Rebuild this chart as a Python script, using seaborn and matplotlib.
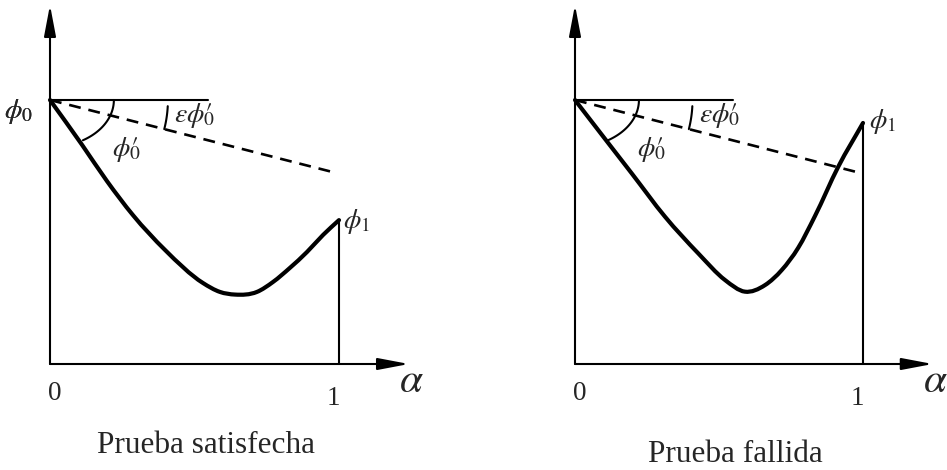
import matplotlib
matplotlib.use("Agg")
import numpy as np
import matplotlib.pyplot as plt
from matplotlib.path import Path
from matplotlib.patches import PathPatch
import seaborn as sns

# phi(alpha) along the step for the two trial cases
alpha_ok = [0.0, 0.111, 0.197, 0.287, 0.398, 0.529, 0.588, 0.640, 0.716, 0.772, 0.830, 0.889, 0.945, 1.0]
phi_ok = [1.0, 0.830, 0.693, 0.564, 0.432, 0.307, 0.273, 0.263, 0.273, 0.311, 0.364, 0.424, 0.489, 0.545]
alpha_fail = [0.0, 0.116, 0.197, 0.3125, 0.428, 0.521, 0.590, 0.660, 0.718, 0.775, 0.833, 0.914, 1.0]
phi_fail = [1.0, 0.836, 0.722, 0.558, 0.419, 0.318, 0.274, 0.299, 0.356, 0.440, 0.560, 0.747, 0.913]

phi0 = 1.0
eps_slope = -0.279          # slope of the sufficient-decrease line eps*phi0'
eps_end = 0.98              # where the dashed line stops
flat_end = 0.548            # length of the horizontal reference at phi0
tick_values = [0, 1]
tick_labels = ["0", "1"]
captions = ["Prueba satisfecha", "Prueba fallida"]

sns.set_theme(style="white")
plt.rcParams["font.family"] = ["Liberation Serif", "DejaVu Serif"]
plt.rcParams["mathtext.fontset"] = "stix"


def smooth_path(xs, ys):
    """Cubic Hermite curve through every (x, y) pair, as a Bezier path."""
    x = np.asarray(xs, float)
    y = np.asarray(ys, float)
    m = np.gradient(y, x)
    verts = [(x[0], y[0])]
    codes = [Path.MOVETO]
    for k in range(len(x) - 1):
        h = x[k + 1] - x[k]
        verts += [(x[k] + h / 3, y[k] + m[k] * h / 3),
                  (x[k + 1] - h / 3, y[k + 1] - m[k + 1] * h / 3),
                  (x[k + 1], y[k + 1])]
        codes += [Path.CURVE4] * 3
    return Path(verts, codes)


W, H = 947, 470
fig = plt.figure(figsize=(W / 100, H / 100), dpi=100)

panels = [
    dict(rect=[0, 0, 473 / W, 1], x0=50, sx=289, xlim=(-50 / 289, 423 / 289),
         alpha=alpha_ok, phi=phi_ok, cap=(206, 453), arc_a=0.221, arc_t=59,
         phi1_lab=(343, 221)),
    dict(rect=[473 / W, 0, 474 / W, 1], x0=575, sx=288, xlim=(-102 / 288, 372 / 288),
         alpha=alpha_fail, phi=phi_fail, cap=(735, 462), arc_a=0.222, arc_t=60,
         phi1_lab=(869, 122)),
]
Y0, SY = 364, 264
ylim = (-106 / SY, 364 / SY)

LW_AX = 1.5
LW_CURVE = 3.0
FS_PHI = 20

for i, p in enumerate(panels):
    ax = fig.add_axes(p["rect"])
    ax.set_xlim(*p["xlim"])
    ax.set_ylim(*ylim)
    ax.set_axis_off()

    def at(px, py, p=p):
        """Pixel position in the figure -> data position in this panel."""
        return (px - p["x0"]) / p["sx"], (Y0 - py) / SY

    # phi(alpha)
    ax.add_patch(PathPatch(smooth_path(p["alpha"], p["phi"]), facecolor="none",
                           edgecolor="black", lw=LW_CURVE, capstyle="round",
                           joinstyle="round"))

    # axes with arrow heads
    y_top = ylim[1] - 5 / SY
    x_tip = 1 + 70 / 289
    arrow = dict(arrowstyle="-|>,head_length=19,head_width=3.6",
                 mutation_scale=1, color="black", lw=LW_AX,
                 shrinkA=0, shrinkB=0)
    ax.annotate("", xy=(0, y_top), xytext=(0, 0), arrowprops=arrow)
    ax.annotate("", xy=(x_tip, 0), xytext=(0, 0), arrowprops=arrow)

    # vertical at alpha = 1 up to phi1
    phi1 = p["phi"][-1]
    sns.lineplot(x=[1, 1], y=[0, phi1], color="black", lw=LW_AX, ax=ax,
                 sort=False, estimator=None)

    # horizontal reference at phi0 and the dashed sufficient-decrease line
    sns.lineplot(x=[0, flat_end], y=[phi0, phi0], color="black", lw=LW_AX, ax=ax)
    ax.plot([0, eps_end], [phi0, phi0 + eps_slope * eps_end], color="black",
            lw=1.9, linestyle=(0, (4.5, 3.0)))

    # angle marks
    t = np.radians(np.linspace(0, p["arc_t"], 60))
    ax.plot(p["arc_a"] * np.cos(t), phi0 - 0.178 * np.sin(t), color="black", lw=LW_AX)
    t2 = np.radians(np.linspace(3, 14.3, 20))
    ax.plot(0.408 * np.cos(t2), phi0 - 0.447 * np.sin(t2), color="black", lw=LW_AX)

    # labels (right panel = left + 525 px)
    dx = p["x0"] - 50
    ax.text(*at(33, 111), r"$\phi_0$", ha="right", va="center", fontsize=FS_PHI)
    ax.text(*at(112 + dx, 150), r"$\phi_0\!\!\!\prime$", ha="left", va="center",
            fontsize=FS_PHI)
    ax.text(*at(174 + dx, 116), r"$\varepsilon\phi_0\!\!\!\prime$", ha="left",
            va="center", fontsize=FS_PHI)
    ax.text(*at(*p["phi1_lab"]), r"$\phi_1$", ha="left", va="center", fontsize=FS_PHI)

    for v, lab in zip(tick_values, tick_labels):
        ax.text(v - (0.02 if v else -0.017), -0.136 - 0.019 * v, lab,
                ha="center", va="baseline", fontsize=19.5)
    ax.text(1.25, -0.106, r"$\alpha$", ha="center", va="baseline", fontsize=30)
    ax.text(*at(*p["cap"]), captions[i], ha="center", va="baseline", fontsize=22.5)

fig.savefig("out.png", dpi=100)
